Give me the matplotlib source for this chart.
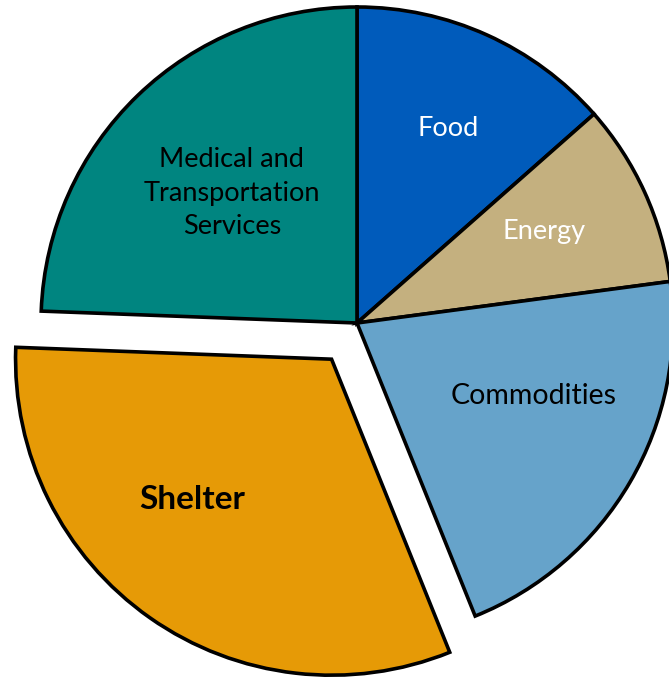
import matplotlib.pyplot as plt

plt.rcParams['font.family'] = ['Lato', 'DejaVu Sans']

labels = ['Food', 'Energy', 'Commodities', 'Shelter',
          'Medical and\nTransportation\nServices']
shares = [13.5, 9.4, 21.0, 31.7, 24.4]
colors = ['#005bbb', '#c4b07f', '#66a3ca', '#e69a06', '#008580']
explode = [0, 0, 0, 0.14, 0]
text_colors = ['white', 'white', 'black', 'black', 'black']
# label positions in units of the pie radius
label_pos = [(0.288, 0.617), (0.592, 0.288), (0.560, -0.231),
             (-0.522, -0.560), (-0.396, 0.411)]

dpi = 100
fig = plt.figure(figsize=(669 / dpi, 681 / dpi), dpi=dpi)
ax = fig.add_axes([0, 0, 1, 1])

wedges, texts = ax.pie(shares, labels=labels, colors=colors, explode=explode,
                       startangle=90, counterclock=False, radius=1.0,
                       wedgeprops=dict(edgecolor='black', linewidth=2.6),
                       labeldistance=0.6)

for t, c, pos in zip(texts, text_colors, label_pos):
    t.set_position(pos)
    t.set_color(c)
    t.set_ha('center')
    t.set_va('center')
    t.set_fontsize(19.5)
    t.set_linespacing(1.42)
texts[2].set_fontsize(20.5)
texts[3].set_fontweight('bold')
texts[3].set_fontsize(24)

ax.set_xlim(-357 / 316, (669 - 357) / 316)
ax.set_ylim(-(681 - 323) / 316, 323 / 316)
ax.set_aspect('equal')
ax.axis('off')

fig.savefig('out.png', dpi=dpi)
